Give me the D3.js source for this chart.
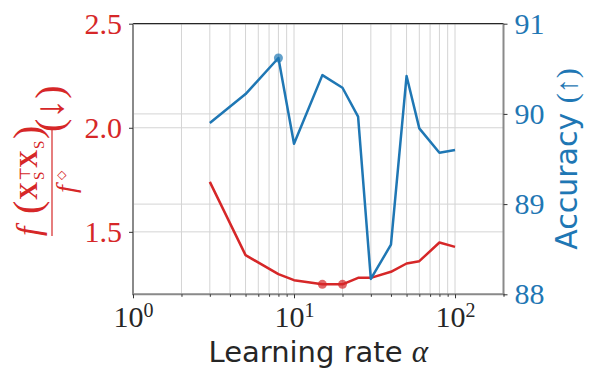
<!DOCTYPE html>
<html><head><meta charset="utf-8">
<script src="https://cdn.jsdelivr.net/npm/d3@7"></script>
<style>
html,body{margin:0;padding:0;background:#fff;}
svg{display:block;}
</style></head><body>
<svg id="chart" width="599" height="381"></svg>
<script>
// ---- data ----
const alphas = [3, 5, 8, 10, 15, 20, 25, 30, 40, 50, 60, 80, 100];
const ratio = [1.740, 1.388, 1.297, 1.268, 1.248, 1.248, 1.279, 1.279, 1.308, 1.348, 1.359, 1.449, 1.428];
const accuracy = [89.90, 90.22, 90.62, 89.67, 90.43, 90.29, 89.97, 88.17, 88.55, 90.42, 89.84, 89.57, 89.60];
const ratioMarked = [15, 20];
const accMarked = [8];
const xMajorTicks = [1, 10, 100];
const xMajorExp = ["0", "1", "2"];
const xMinorTicks = [2, 3, 4, 5, 6, 7, 8, 9, 20, 30, 40, 50, 60, 70, 80, 90, 200];
const yLeftTicks = [1.5, 2.0, 2.5];
const yRightTicks = [88, 89, 90, 91];
const xDomain = [1, 200];
const yLeftDomain = [1.2, 2.5];
const yRightDomain = [88, 91];

// ---- setup ----
const W = 599, H = 381;
const RED = "#d62728", BLUE = "#1f77b4", DARK = "#262626";
const SERIF = "'Liberation Serif','DejaVu Serif',serif";
const SANS = "'DejaVu Sans',sans-serif";
const L = 133, R = 503.5, T = 23.7, B = 294.3;

const svg = d3.select("#chart");
const x = d3.scaleLog().domain(xDomain).range([L, R]);
const yL = d3.scaleLinear().domain(yLeftDomain).range([B, T]);
const yR = d3.scaleLinear().domain(yRightDomain).range([B, T]);

// ---- grid ----
const grid = svg.append("g").attr("stroke", "#d4d4d4").attr("stroke-width", 1);
grid.selectAll(".vg").data(xMinorTicks.concat(xMajorTicks).filter(d => d > xDomain[0] && d < xDomain[1]))
  .join("line").attr("x1", d => x(d)).attr("x2", d => x(d)).attr("y1", T).attr("y2", B);
grid.selectAll(".hl").data(yLeftTicks).join("line")
  .attr("x1", L).attr("x2", R).attr("y1", d => yL(d)).attr("y2", d => yL(d));
grid.selectAll(".hr").data(yRightTicks).join("line")
  .attr("x1", L).attr("x2", R).attr("y1", d => yR(d)).attr("y2", d => yR(d));

// ---- series ----
const redData = alphas.map((a, i) => [a, ratio[i]]);
const blueData = alphas.map((a, i) => [a, accuracy[i]]);
svg.append("path").datum(redData)
  .attr("d", d3.line().x(d => x(d[0])).y(d => yL(d[1])))
  .attr("fill", "none").attr("stroke", RED).attr("stroke-width", 2.5).attr("stroke-linejoin", "round");
svg.selectAll(".rm").data(redData.filter(d => ratioMarked.includes(d[0]))).join("circle")
  .attr("cx", d => x(d[0])).attr("cy", d => yL(d[1])).attr("r", 4.5)
  .attr("fill", RED).attr("fill-opacity", 0.7);
svg.append("path").datum(blueData)
  .attr("d", d3.line().x(d => x(d[0])).y(d => yR(d[1])))
  .attr("fill", "none").attr("stroke", BLUE).attr("stroke-width", 2.5).attr("stroke-linejoin", "round");
svg.selectAll(".bm").data(blueData.filter(d => accMarked.includes(d[0]))).join("circle")
  .attr("cx", d => x(d[0])).attr("cy", d => yR(d[1])).attr("r", 4.5)
  .attr("fill", BLUE).attr("fill-opacity", 0.7);

// ---- spines ----
svg.append("line").attr("x1", L).attr("x2", R).attr("y1", T).attr("y2", T).attr("stroke", DARK).attr("stroke-width", 1.2);
const sp = svg.append("g").attr("stroke", "#8a8a8a").attr("stroke-width", 2);
sp.append("line").attr("x1", L).attr("x2", L).attr("y1", T).attr("y2", B);
sp.append("line").attr("x1", R).attr("x2", R).attr("y1", T).attr("y2", B);
sp.append("line").attr("x1", L - 1).attr("x2", R + 1).attr("y1", B).attr("y2", B);

// ---- axes ----
function styleAxis(g, color) {
  g.select(".domain").remove();
  g.attr("font-family", SERIF);
  g.selectAll(".tick line").attr("stroke", "#333").attr("stroke-width", 1);
  g.selectAll(".tick text").attr("fill", color).attr("font-family", SERIF).attr("font-size", 30);
}
const gl = svg.append("g").attr("transform", `translate(${L},0)`)
  .call(d3.axisLeft(yL).tickValues(yLeftTicks).tickSize(4).tickPadding(7).tickFormat(d3.format(".1f")));
styleAxis(gl, RED);
const gr = svg.append("g").attr("transform", `translate(${R},0)`)
  .call(d3.axisRight(yR).tickValues(yRightTicks).tickSize(4).tickPadding(7).tickFormat(d3.format("d")));
styleAxis(gr, BLUE);
const gmin = svg.append("g").attr("transform", `translate(0,${B})`)
  .call(d3.axisBottom(x).tickValues(xMinorTicks).tickSize(2.5).tickFormat(""));
styleAxis(gmin, DARK);
const gmaj = svg.append("g").attr("transform", `translate(0,${B})`)
  .call(d3.axisBottom(x).tickValues(xMajorTicks).tickSize(4).tickFormat(""));
styleAxis(gmaj, DARK);
gmaj.selectAll(".tick text").attr("y", 33.2).attr("dy", 0).each(function(d, i) {
  const t = d3.select(this);
  t.append("tspan").text("10");
  t.append("tspan").attr("font-size", 20).attr("dy", -10).text(xMajorExp[i]);
});

// ---- x label ----
const xl = svg.append("text").attr("x", (L + R) / 2).attr("y", 361.5).attr("text-anchor", "middle")
  .attr("fill", DARK).attr("font-family", SANS).attr("font-size", 29);
xl.append("tspan").text("Learning rate ");
xl.append("tspan").attr("font-family", SERIF).attr("font-style", "italic").attr("font-size", 31).text("α");

// ---- right label ----
const rl = svg.append("text").attr("transform", `translate(577,${(T + B) / 2}) rotate(-90)`)
  .attr("text-anchor", "middle").attr("fill", BLUE).attr("font-family", SANS).attr("font-size", 30);
rl.append("tspan").text("Accuracy ");
rl.append("tspan").attr("font-family", SERIF).text("(↑)");

// ---- left label (fraction) ----
const lab = svg.append("g").attr("transform", "translate(52,162) rotate(-90)").attr("fill", RED)
  .attr("font-family", SERIF);
function lt(txt, lx, ly, size, extra) {
  const e = lab.append("text").attr("x", lx).attr("y", ly).attr("font-size", size).text(txt);
  if (extra) Object.entries(extra).forEach(([k, v]) => e.attr(k, v));
  return e;
}
lt("f", -74, -12, 34, {"font-style": "italic"});
lt("(", -52, -11, 40);
lt("X", -38, -15, 25, {"font-weight": "bold"});
lt("⊤", -19, -22, 15);
lt("S", -18, -8, 15);
lt("X", -6, -15, 25, {"font-weight": "bold"});
lt("S", 13, -8, 15);
lt(")", 23, -11, 40);
lab.append("line").attr("x1", -74).attr("x2", 35).attr("y1", 0).attr("y2", 0)
  .attr("stroke", RED).attr("stroke-width", 1.2);
lt("f", -31, 23, 28, {"font-style": "italic"});
lt("◇", -18, 13, 12);
lt("(↓)", 30, 11, 40);
</script>
</body></html>
